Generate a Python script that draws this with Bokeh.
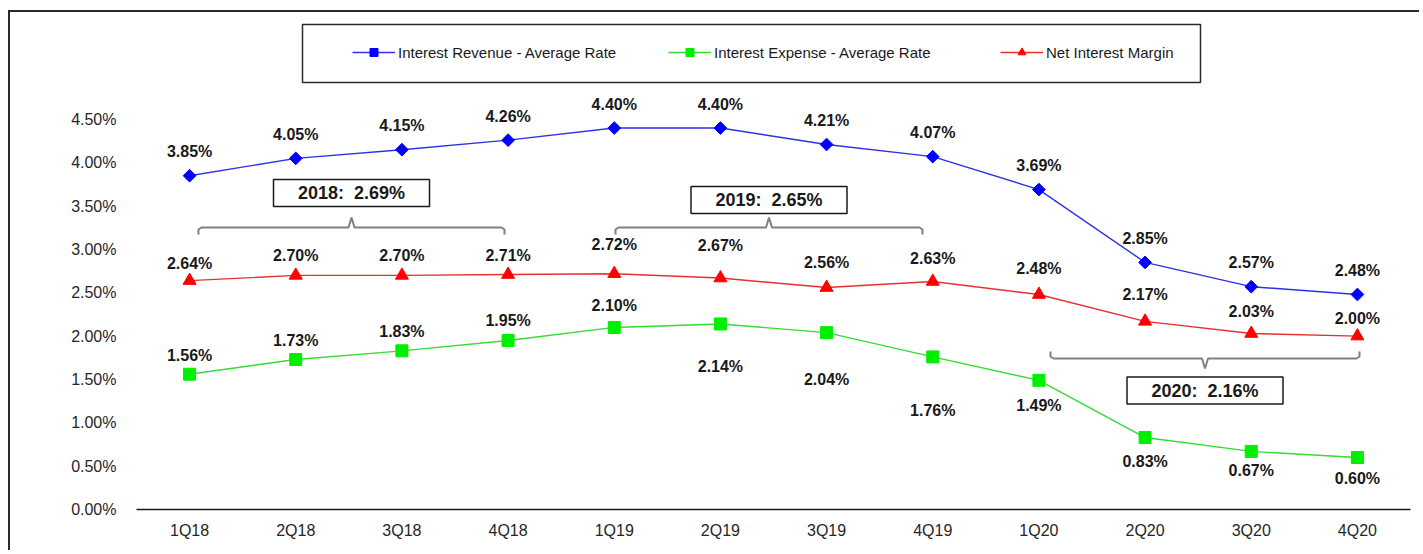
import math
from bokeh.plotting import figure
from bokeh.models import (Range1d, FixedTicker, PrintfTickFormatter, Legend,
                          LegendItem, ColumnDataSource)
from bokeh.core.properties import value
from bokeh.embed import file_html
from bokeh.resources import INLINE

# ---------------- data ----------------
quarters = ["1Q18", "2Q18", "3Q18", "4Q18", "1Q19", "2Q19", "3Q19", "4Q19",
            "1Q20", "2Q20", "3Q20", "4Q20"]
revenue = [3.85, 4.05, 4.15, 4.26, 4.40, 4.40, 4.21, 4.07, 3.69, 2.85, 2.57, 2.48]
expense = [1.56, 1.73, 1.83, 1.95, 2.10, 2.14, 2.04, 1.76, 1.49, 0.83, 0.67, 0.60]
nim = [2.64, 2.70, 2.70, 2.71, 2.72, 2.67, 2.56, 2.63, 2.48, 2.17, 2.03, 2.00]
y_ticks = [0.0, 0.5, 1.0, 1.5, 2.0, 2.5, 3.0, 3.5, 4.0, 4.5]
years = ["2018", "2019", "2020"]
year_avg = [2.69, 2.65, 2.16]
year_first = [0, 4, 8]
year_last = [3, 7, 11]

series_names = ["Interest Revenue - Average Rate",
                "Interest Expense - Average Rate",
                "Net Interest Margin"]

# ---------------- styling / layout ----------------
W, H = 1411, 540
ML, MR, MT, MB = 126, 11, 2, 43
frame_w = W - ML - MR
frame_h = H - MT - MB
PX_PER_PCT = 86.7
y_top = frame_h / PX_PER_PCT
PAGE_X0, PAGE_Y0 = 10, 12          # canvas origin on the page
FRAME_LEFT = PAGE_X0 + ML
FRAME_BOTTOM = PAGE_Y0 + MT + frame_h
PX_PER_CAT = frame_w / len(quarters)


def dx(page_x):
    return -0.5 + (page_x - FRAME_LEFT) / PX_PER_CAT


def dy(page_y):
    return (FRAME_BOTTOM - page_y) / PX_PER_PCT


rev_off = [-24] * 12
nim_off = [-17, -20, -20, -19, -29, -33, -25, -23, -26, -27, -22, -18]
exp_off = [-19, -19, -19, -20, -22, 43, 47, 54, 25, 24, 19, 21]

BLUE, GREEN, RED = "#0000ff", "#00ee00", "#ff0000"
BLUE_L, GREEN_L, RED_L = "#3030e8", "#33dd33", "#e83030"
FONT = "Liberation Sans"
TXT = "#1a1a1a"

p = figure(width=W, height=H, output_backend="svg", toolbar_location=None,
           x_range=Range1d(-0.5, len(quarters) - 0.5), y_range=Range1d(0, y_top),
           min_border_left=ML, min_border_right=MR, min_border_top=MT,
           min_border_bottom=MB)
p.styles = {"margin-left": "8px", "margin-top": "10px",
            "border-left": "2px solid #2a2a2a", "border-top": "2px solid #2a2a2a"}
p.outline_line_color = None
p.xgrid.visible = False
p.ygrid.visible = False
p.background_fill_color = "white"
p.border_fill_color = "white"

# axes
xs = list(range(len(quarters)))
p.xaxis.ticker = FixedTicker(ticks=xs)
p.xaxis.major_label_overrides = {i: q for i, q in enumerate(quarters)}
p.xaxis.axis_line_color = "#1a1a1a"
p.xaxis.axis_line_width = 1.5
p.xaxis.major_tick_in = 0
p.xaxis.major_tick_out = 0
p.xaxis.minor_tick_line_color = None
p.xaxis.major_label_standoff = 12
p.xaxis.major_label_text_font = FONT
p.xaxis.major_label_text_font_size = "16px"
p.xaxis.major_label_text_color = "#262626"

p.yaxis.ticker = FixedTicker(ticks=y_ticks)
p.yaxis.formatter = PrintfTickFormatter(format="%.2f%%")
p.yaxis.axis_line_color = None
p.yaxis.major_tick_line_color = None
p.yaxis.minor_tick_line_color = None
p.yaxis.major_label_standoff = 14
p.yaxis.major_label_text_font = FONT
p.yaxis.major_label_text_font_size = "16px"
p.yaxis.major_label_text_color = "#262626"

# legend frame box
p.rect(x=[dx(751)], y=[dy(53)], width=898, height=58, width_units="screen",
       height_units="screen", fill_color="white", line_color="#2a2a2a", line_width=1.5)

# series
src = ColumnDataSource(dict(x=xs, rev=revenue, exp=expense, nim=nim,
                            rev_t=[f"{v:.2f}%" for v in revenue],
                            exp_t=[f"{v:.2f}%" for v in expense],
                            nim_t=[f"{v:.2f}%" for v in nim],
                            rev_o=rev_off, exp_o=exp_off, nim_o=nim_off))

l1 = p.line("x", "rev", source=src, line_color=BLUE_L, line_width=1.4)
m1 = p.scatter("x", "rev", source=src, marker="square", angle=math.pi / 4, size=9,
               fill_color=BLUE, line_color=BLUE)
l2 = p.line("x", "exp", source=src, line_color=GREEN_L, line_width=1.4)
m2 = p.scatter("x", "exp", source=src, marker="square", size=12,
               fill_color=GREEN, line_color=GREEN)
l3 = p.line("x", "nim", source=src, line_color=RED_L, line_width=1.4)
m3 = p.scatter("x", "nim", source=src, marker="triangle", size=13,
               fill_color=RED, line_color=RED)

for col, off in (("rev", "rev_o"), ("exp", "exp_o"), ("nim", "nim_o")):
    p.text("x", col, text=col + "_t", source=src, y_offset=off,
           text_align="center", text_baseline="middle",
           text_font=value(FONT), text_font_style="bold",
           text_font_size="16px", text_color=TXT)

# year brackets + average boxes
BR_GRAY = "#808080"
br_cfg = [  # (left page x, right page x, line page y, hook dir, box center page y)
    (198, 504, 227, 1, 192.5),
    (615, 922, 227, 1, 199.5),
    (1050, 1359, 358, -1, 390),
]
for i, (yr, avg) in enumerate(zip(years, year_avg)):
    lx, rx, ly, d, by = br_cfg[i]
    cx = (lx + rx) / 2
    hook = 7 * d
    tip = -10 * d
    p.line(x=[dx(lx), dx(lx), dx(lx + 3), dx(cx - 3), dx(cx), dx(cx + 3),
              dx(rx - 3), dx(rx), dx(rx)],
           y=[dy(ly + hook), dy(ly + 2 * d), dy(ly), dy(ly), dy(ly + tip), dy(ly),
              dy(ly), dy(ly + 2 * d), dy(ly + hook)],
           line_color=BR_GRAY, line_width=2)
    p.rect(x=[dx(cx)], y=[dy(by)], width=156, height=27, width_units="screen",
           height_units="screen", fill_color="white", line_color="#1a1a1a",
           line_width=1.5)
    p.text(x=[dx(cx)], y=[dy(by)], text=[f"{yr}:\u00a0 {avg:.2f}%"],
           text_align="center", text_baseline="middle", text_font=value(FONT),
           text_font_style="bold", text_font_size="18px", text_color=TXT)

# legends (one per item, positioned like the original)
legend_x = [216, 532, 864]
legend_y = FRAME_BOTTOM - 62
for name, rends, lxp in zip(series_names, [[l1, m1], [l2, m2], [l3, m3]], legend_x):
    leg = Legend(items=[LegendItem(label=name, renderers=rends)],
                 location=(lxp, legend_y), orientation="horizontal",
                 glyph_width=43, glyph_height=20, label_standoff=3,
                 padding=0, margin=0, border_line_color=None,
                 background_fill_alpha=0, label_text_font=FONT,
                 label_text_font_size="15px", label_text_color=TXT)
    p.add_layout(leg, "center")

open("out.html", "w").write(file_html(p, INLINE))
